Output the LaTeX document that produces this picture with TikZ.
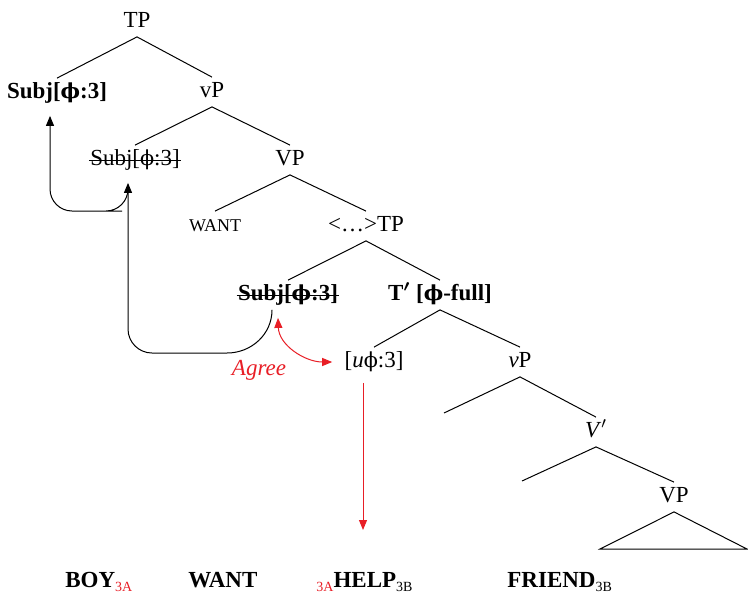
\documentclass[tikz,border=0pt]{standalone}
\usepackage{fontspec}
\setmainfont{Liberation Serif}
\newfontfamily\greekfont[Scale=0.9]{DejaVu Serif}
\newcommand{\ph}{{\greekfont ϕ}}
\newcommand{\agr}[1]{\raisebox{-2pt}{\scriptsize\mdseries #1}}
\usetikzlibrary{arrows.meta,positioning}
\definecolor{agreered}{RGB}{232,30,38}
\tikzset{
  >={Triangle[length=5pt,width=4pt]},
  lbl/.style={inner sep=2pt, text height=8pt, text depth=2.5pt,
    font=\fontsize{11.5}{13}\selectfont},
  word/.style={inner sep=0pt, anchor=base west,
    font=\fontsize{11.5}{13}\selectfont\bfseries},
  branch/.style={line width=0.5pt},
  strike/.style={line width=0.5pt, shorten <=1.5pt, shorten >=1.5pt},
  move/.style={->, line width=0.5pt},
}

\begin{document}
\begin{tikzpicture}[x=0.5pt,y=-0.5pt]
\useasboundingbox (0,0) rectangle (748,594);

% tree labels
\node[lbl] (TP) at (137,22) {TP};
\node[lbl] (subjA) at (57,93) {\textbf{Subj[\ph:3]}};
\node[lbl] (vPa) at (212,92) {vP};
\node[lbl] (subjB) at (135,160) {Subj[\ph:3]};
\node[lbl] (VPa) at (290,160) {VP};
\node[lbl] (want) at (215,226) {{\fontsize{9}{10}\selectfont WANT}};
\node[lbl] (TPb) at (366,226) {<\ldots>TP};
\node[lbl] (subjC) at (288,295) {\textbf{Subj[\ph:3]}};
\node[lbl] (Tbar) at (440,295) {\textbf{T{\boldmath$'$} [\ph-full]}};
\node[lbl] (uphi) at (374,362) {[\textit{u}\ph:3]};
\node[lbl] (vPb) at (520,362) {\textit{v}P};
\node[lbl] (Vbar) at (596,432) {\textit{V}$'$};
\node[lbl] (VPb) at (674,497) {VP};

% deleted copies
\draw[strike] (subjB.west) -- (subjB.east);
\draw[strike] (subjC.west) -- (subjC.east);

% loose ends of branches
\coordinate (vleft) at (444,413);
\coordinate (Vleft) at (522,481);
\coordinate (triL) at (600,549);
\coordinate (triR) at (747,549);

% branches
\draw[branch] (subjA.north) -- (TP.south) -- (vPa.north);
\draw[branch] (subjB.north) -- (vPa.south) -- (VPa.north);
\draw[branch] (want.north) -- (VPa.south) -- (TPb.north);
\draw[branch] (subjC.north) -- (TPb.south) -- (Tbar.north);
\draw[branch] (uphi.north) -- (Tbar.south) -- (vPb.north);
\draw[branch] (vleft) -- (vPb.south) -- (Vbar.north);
\draw[branch] (Vleft) -- (Vbar.south) -- (VPb.north);
\draw[branch] (triL) -- (VPb.south) -- (triR) -- cycle;

% movement
\coordinate (lowB) at (227,353);
\coordinate (fork) at (128,190);
\coordinate (lowA) at (100,211);
\draw[move] ([xshift=-8pt]subjC.south) to[out=-90,in=0] (lowB)
  [rounded corners=12pt] -| ([xshift=-3.5pt,yshift=-4pt]subjB.south);
\draw[move, rounded corners=11pt] (fork) |- (lowA)
  -| ([xshift=-3.5pt,yshift=-4pt]subjA.south);

% agreement
\coordinate (helpend) at (363,530);
\draw[<->, agreered, line width=0.5pt] ([xshift=-5pt,yshift=-4pt]subjC.south)
  to[out=-88,in=180] ([xshift=-4pt]uphi.west);
\node[lbl, text=agreered, font=\fontsize{11.5}{13}\selectfont\itshape]
  (agree) at (259,370) {Agree};
\draw[->, agreered, line width=0.5pt] ([xshift=-5.5pt,yshift=-3pt]uphi.south)
  -- (helpend);

% glosses
\node[word] (boy) at (65,587) {BOY\agr{\color{agreered}3A}};
\node[word] (wantw) at (188,587) {WANT};
\node[word] (help) at (316,587)
  {\agr{\color{agreered}3A}HELP\agr{3B}};
\node[word] (friend) at (507,587) {FRIEND\agr{3B}};
\end{tikzpicture}
\end{document}
